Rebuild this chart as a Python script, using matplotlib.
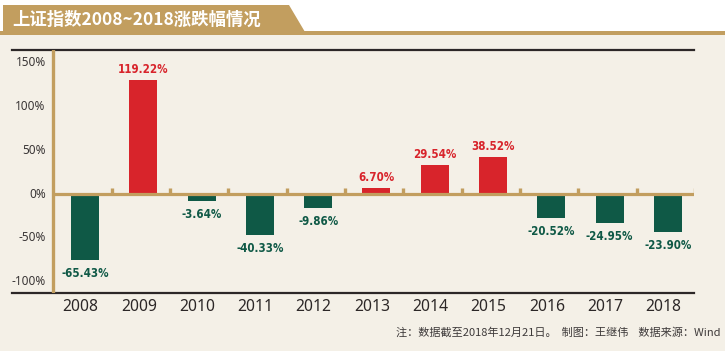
import matplotlib
matplotlib.use("Agg")
import matplotlib.pyplot as plt
from matplotlib.patches import Polygon, Rectangle

# ---- data ----
years = ["2008", "2009", "2010", "2011", "2012", "2013", "2014", "2015", "2016", "2017", "2018"]
changes = [-65.43, 119.22, -3.64, -40.33, -9.86, 6.70, 29.54, 38.52, -20.52, -24.95, -23.90]
# bar lengths as drawn in the reference picture (%)
bar_heights = [-76, 131, -8, -47.5, -15.6, 6.8, 33, 42.2, -27, -32.7, -44]
ytick_values = [150, 100, 50, 0, -50, -100]
ytick_labels = ["150%", "100%", "50%", "0%", "-50%", "-100%"]
title = "上证指数2008~2018涨跌幅情况"
note = "注：数据截至2018年12月21日。  制图：王继伟    数据来源：Wind"

W, H = 725, 351
BG = "#F4F0E7"
GOLD = "#C29E5F"
RED = "#D8242B"
GREEN = "#0F5946"
DARK = "#2C2727"

fig = plt.figure(figsize=(W / 100, H / 100), dpi=100, facecolor=BG)

def fx(px):
    return px / W

def fy(py):
    return 1 - py / H

# white header strip, banner, gold band
fig.patches.append(Rectangle((0, fy(32)), 1, 32 / H, transform=fig.transFigure,
                             facecolor="white", edgecolor="none", zorder=0))
fig.patches.append(Polygon([(fx(3), fy(5)), (fx(289), fy(5)), (fx(305), fy(32)), (fx(3), fy(32))],
                           closed=True, transform=fig.transFigure, facecolor=GOLD,
                           edgecolor="none", zorder=1))
fig.patches.append(Rectangle((0, fy(35)), 1, 4 / H, transform=fig.transFigure,
                             facecolor=GOLD, edgecolor="none", zorder=1))
fig.text(fx(12), fy(19.5), title, color="white", fontsize=12.5, fontweight="bold",
         family=["Noto Sans CJK SC", "DejaVu Sans"], ha="left", va="center")

# axes
ax_l, ax_r, ax_t, ax_b = 12, 694, 50, 292.7
ax = fig.add_axes([fx(ax_l), 1 - ax_b / H, (ax_r - ax_l) / W, (ax_b - ax_t) / H])
ax.set_facecolor(BG)
scale = 0.8736  # px per %
y0 = 194
ax.set_ylim(-(ax_b - y0) / scale, (y0 - ax_t) / scale)
c0, step = 85, 58.3
xl = (ax_l - c0) / step
xr = (ax_r - c0) / step
ax.set_xlim(xl, xr)

for s in ["left", "right"]:
    ax.spines[s].set_visible(False)
for s in ["top", "bottom"]:
    ax.spines[s].set_color(DARK)
    ax.spines[s].set_linewidth(1.6)
ax.set_yticks([])
ax.set_xticks([])

xs = list(range(len(years)))
colors = [RED if v >= 0 else GREEN for v in changes]
ax.bar(xs, bar_heights, width=28 / step, color=colors, zorder=2)

# gold axes
yaxis_x = (52.7 - c0) / step
ax.axvline(yaxis_x, color=GOLD, lw=2.4, zorder=3)
ax.plot([yaxis_x, xr], [0, 0], color=GOLD, lw=2.3, zorder=3, solid_capstyle="butt")
tick_h = 6 / scale
ax.vlines([i + 0.46 for i in xs], 0, tick_h, color=GOLD, lw=2.4, zorder=3)

# y tick labels
for v, lab in zip(ytick_values, ytick_labels):
    ax.text((45.7 - c0) / step, v, lab, ha="right", va="center", fontsize=8.5,
            color="#3A3636", family="Noto Sans")

# value labels
for x, h, v, c in zip(xs, bar_heights, changes, colors):
    txt = f"{v:.2f}%"
    if v >= 0:
        ax.text(x, h + 4 / scale, txt, ha="center", va="bottom", fontsize=8.3,
                fontweight="bold", fontstretch="condensed", color=c, family="DejaVu Sans")
    else:
        ax.text(x, h - 7 / scale, txt, ha="center", va="top", fontsize=8.3,
                fontweight="bold", fontstretch="condensed", color=c, family="DejaVu Sans")

# x labels
for x, yr in zip(xs, years):
    ax.text(x - 4.5 / step, ax.get_ylim()[0] - 14 / scale, yr, ha="center", va="center",
            fontsize=11.3, color=DARK, family="Noto Sans", clip_on=False)

fig.text(fx(720), fy(332), note, ha="right", va="center", fontsize=8, color="#3E3A3A",
         family=["Noto Sans CJK SC", "DejaVu Sans"])

fig.savefig("out.png", dpi=100, facecolor=BG)
